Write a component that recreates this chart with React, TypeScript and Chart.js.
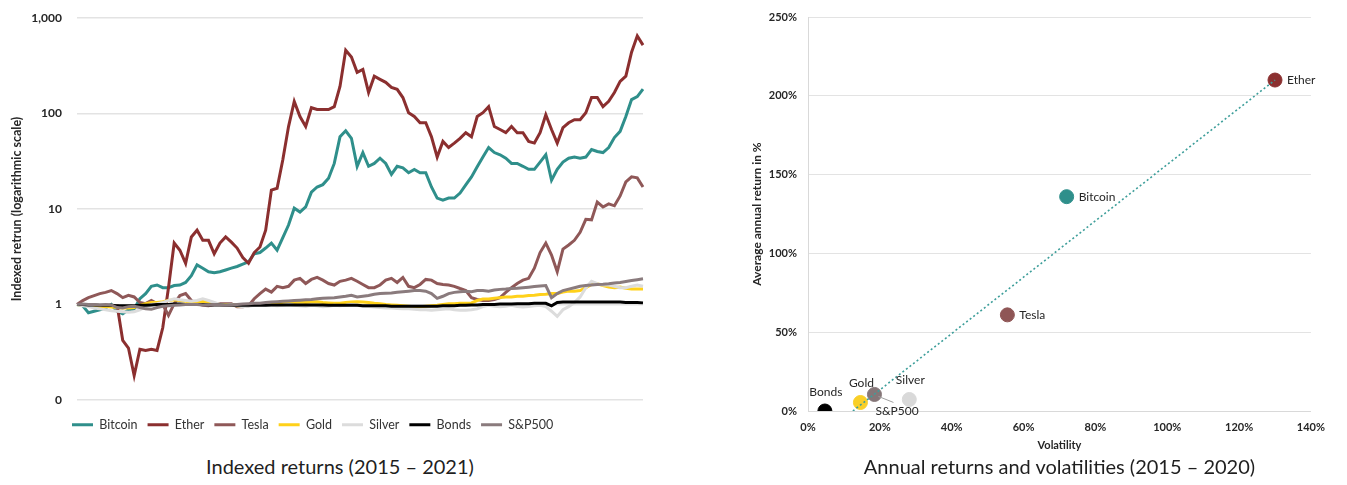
import React, { useEffect, useRef } from 'react';
import { Chart, registerables } from 'chart.js';

Chart.register(...registerables);

const FONT = 'Lato, "Source Sans Pro", "Noto Sans", sans-serif';
Chart.defaults.font.family = FONT;

// ---------- Left chart data (indexed returns, log scale) ----------
const periods = Array.from({ length: 100 }, (_, i) => {
  const d = new Date(Date.UTC(2015, 1, 1) + i * 22.3 * 86400000);
  return d.toISOString().slice(0, 10);
});

const bitcoin = [
  1.0, 0.97, 0.82, 0.85, 0.88, 0.92, 1.0, 0.85, 0.8, 0.88,
  0.9, 1.15, 1.3, 1.55, 1.6, 1.5, 1.5, 1.58, 1.6, 1.7,
  2.0, 2.6, 2.4, 2.2, 2.15, 2.2, 2.3, 2.4, 2.5, 2.65,
  2.8, 3.4, 3.5, 3.9, 4.4, 3.7, 5.0, 6.8, 10.2, 9.3,
  10.5, 15, 17, 18, 21, 30, 57, 66, 55, 28,
  39, 28, 30, 34, 30, 23, 28, 27, 24, 26,
  24, 24, 17, 13, 12.4, 13, 13, 14.7, 17.9, 21.7,
  27.7, 35, 44, 39, 37, 34, 30, 30, 28, 26,
  26, 31, 37, 20, 26, 31, 34, 35, 34, 35,
  42, 40, 39, 44, 56, 65, 93, 140, 150, 180,
];

const ether = [
  null, null, null, null, null, null, null, 1.0, 0.42, 0.35,
  0.18, 0.34, 0.33, 0.34, 0.33, 0.57, 1.5, 4.4, 3.7, 2.7,
  5.1, 6.0, 4.7, 4.7, 3.4, 4.4, 5.1, 4.5, 3.9, 3.1,
  2.7, 3.5, 4.0, 6.0, 15.8, 16.5, 32.8, 73, 134, 93,
  73, 115, 110, 110, 110, 118, 192, 460, 390, 270,
  290, 166, 246, 228, 212, 188, 179, 147, 102, 93,
  80, 80, 57, 35, 51, 44, 49, 55, 63, 57,
  93, 102, 118, 73, 68, 63, 73, 63, 63, 51,
  49, 63, 97, 68, 49, 71, 80, 86, 86, 102,
  147, 147, 118, 134, 166, 217, 246, 438, 650, 520,
];

const tesla = [
  1.0, 1.1, 1.18, 1.24, 1.3, 1.34, 1.4, 1.3, 1.18, 1.25,
  1.2, 1.05, 1.02, 1.1, 1.02, 1.0, 0.77, 1.02, 1.24, 1.3,
  1.1, 1.02, 0.98, 0.97, 1.0, 1.02, 1.02, 1.02, 0.95, 0.95,
  0.97, 1.15, 1.3, 1.45, 1.35, 1.55, 1.5, 1.55, 1.8, 1.88,
  1.66, 1.83, 1.92, 1.8, 1.66, 1.6, 1.75, 1.8, 1.88, 1.75,
  1.62, 1.5, 1.5, 1.6, 1.8, 1.88, 1.7, 1.92, 1.55, 1.5,
  1.62, 1.83, 1.8, 1.66, 1.62, 1.6, 1.55, 1.47, 1.4, 1.18,
  1.13, 1.1, 1.1, 1.13, 1.18, 1.34, 1.5, 1.66, 1.8, 1.88,
  2.4, 3.5, 4.4, 3.3, 2.2, 3.8, 4.2, 4.7, 5.7, 7.8,
  7.7, 11.8, 10.5, 11.3, 10.8, 13.7, 19.2, 21.7, 21.2, 17,
];

const gold = [
  1.0, 0.98, 0.97, 0.96, 0.95, 0.95, 0.94, 0.93, 0.92, 0.92,
  0.93, 0.98, 1.02, 1.05, 1.05, 1.07, 1.1, 1.12, 1.1, 1.08,
  1.05, 1.05, 1.08, 1.06, 1.02, 1.0, 1.0, 1.0, 0.97, 0.96,
  0.98, 1.0, 1.02, 1.02, 1.03, 1.04, 1.03, 1.05, 1.05, 1.06,
  1.05, 1.06, 1.07, 1.05, 1.04, 1.03, 1.03, 1.05, 1.06, 1.07,
  1.06, 1.05, 1.03, 1.02, 1.0, 0.99, 0.98, 0.97, 0.96, 0.95,
  0.95, 0.96, 0.97, 0.98, 1.0, 1.02, 1.02, 1.03, 1.03, 1.04,
  1.1, 1.14, 1.14, 1.16, 1.18, 1.2, 1.2, 1.22, 1.22, 1.24,
  1.25, 1.27, 1.28, 1.3, 1.3, 1.35, 1.38, 1.38, 1.4, 1.5,
  1.62, 1.65, 1.58, 1.52, 1.5, 1.52, 1.48, 1.45, 1.45, 1.45,
];

const silver = [
  1.0, 0.97, 0.95, 0.92, 0.9, 0.88, 0.86, 0.85, 0.84, 0.83,
  0.84, 0.88, 0.95, 1.0, 1.02, 1.05, 1.1, 1.15, 1.12, 1.1,
  1.08, 1.1, 1.15, 1.1, 1.05, 1.0, 0.98, 1.0, 0.97, 0.95,
  0.96, 0.98, 1.0, 1.0, 0.98, 0.97, 0.98, 1.0, 0.98, 0.97,
  0.96, 0.98, 0.97, 0.95, 0.96, 0.98, 0.97, 0.98, 1.0, 0.98,
  0.96, 0.95, 0.94, 0.93, 0.92, 0.92, 0.91, 0.9, 0.9, 0.89,
  0.88, 0.88, 0.87, 0.88, 0.89, 0.9, 0.88, 0.87, 0.87, 0.88,
  0.9, 0.95, 0.98, 0.96, 0.95, 0.96, 0.98, 0.95, 0.94, 0.95,
  0.97, 0.98, 0.95, 0.85, 0.75, 0.88, 0.95, 1.05, 1.2, 1.5,
  1.75, 1.65, 1.6, 1.6, 1.55, 1.5, 1.5, 1.55, 1.6, 1.55,
];

const bonds = [
  1.0, 1.0, 0.99, 0.99, 0.98, 0.98, 0.98, 0.97, 0.97, 0.97,
  0.97, 0.98, 0.98, 0.99, 1.0, 1.0, 1.0, 1.01, 1.01, 1.0,
  1.0, 1.0, 1.0, 0.99, 0.99, 0.99, 0.98, 0.98, 0.98, 0.98,
  0.98, 0.98, 0.98, 0.98, 0.99, 0.99, 0.99, 0.99, 0.99, 0.99,
  0.99, 0.99, 0.99, 0.99, 0.98, 0.98, 0.98, 0.98, 0.98, 0.98,
  0.97, 0.97, 0.97, 0.97, 0.97, 0.96, 0.96, 0.96, 0.96, 0.96,
  0.96, 0.96, 0.96, 0.96, 0.97, 0.97, 0.97, 0.98, 0.98, 0.99,
  0.99, 1.0, 1.0, 1.0, 1.01, 1.01, 1.01, 1.02, 1.02, 1.02,
  1.03, 1.03, 1.03, 0.97, 1.05, 1.06, 1.06, 1.06, 1.06, 1.06,
  1.06, 1.06, 1.06, 1.06, 1.06, 1.06, 1.05, 1.05, 1.05, 1.04,
];

const sp500 = [
  1.0, 1.01, 1.0, 1.0, 0.99, 1.0, 0.99, 0.93, 0.92, 0.95,
  0.96, 0.93, 0.9, 0.89, 0.93, 0.96, 0.97, 0.98, 0.99, 1.0,
  1.0, 1.0, 0.99, 0.99, 1.0, 0.99, 0.98, 0.99, 1.0, 1.01,
  1.02, 1.03, 1.03, 1.05, 1.06, 1.07, 1.08, 1.09, 1.1, 1.11,
  1.12, 1.13, 1.15, 1.16, 1.17, 1.18, 1.2, 1.22, 1.25, 1.2,
  1.22, 1.24, 1.28, 1.3, 1.31, 1.32, 1.34, 1.36, 1.38, 1.4,
  1.4, 1.38, 1.3, 1.16, 1.22, 1.3, 1.34, 1.36, 1.38, 1.36,
  1.4, 1.4, 1.38, 1.42, 1.44, 1.45, 1.47, 1.48, 1.5, 1.52,
  1.54, 1.56, 1.58, 1.18, 1.3, 1.4, 1.45, 1.5, 1.55, 1.58,
  1.6, 1.62, 1.63, 1.65, 1.68, 1.7, 1.74, 1.78, 1.82, 1.86,
];

const seriesNames = ['Bitcoin', 'Ether', 'Tesla', 'Gold', 'Silver', 'Bonds', 'S&P500'];
const seriesData = [bitcoin, ether, tesla, gold, silver, bonds, sp500];
const seriesColors = ['#2f8f8b', '#8b2f2f', '#8f5858', '#ffd11a', '#dcdcdc', '#000000', '#8a7b7d'];
const logTicks = [0.1, 1, 10, 100, 1000];

// ---------- Right chart data (annual return vs volatility) ----------
const assets = ['Bonds', 'Gold', 'S&P500', 'Silver', 'Tesla', 'Bitcoin', 'Ether'];
const volatility = [4.7, 14.6, 18.5, 28.2, 55.5, 72, 130];
const annualReturn = [0, 5.4, 10.5, 7.3, 61, 136, 210];
const assetColors = ['#000000', '#f9cf27', '#857678', '#d9d9d9', '#8f5656', '#2f8f8b', '#8b3030'];
const trendVol = [12.5, 130];
const trendRet = [0, 210];
const labelPlacement: Record<string, string> = {
  Bonds: 'above', Gold: 'above', 'S&P500': 'leader', Silver: 'above',
  Tesla: 'right', Bitcoin: 'right', Ether: 'right',
};

const TEXT = '#262626';

const legendShift = {
  id: 'legendShift',
  afterLayout(chart: any) {
    const l = chart.legend;
    if (!l) return;
    const pad = l.options.labels.padding;
    const dx = 64 - (l.left + pad);
    l.left += dx;
    l.right += dx;
  },
};

const scatterLabels = {
  id: 'scatterLabels',
  afterDatasetsDraw(chart: any) {
    const meta = chart.getDatasetMeta(1);
    const ctx = chart.ctx;
    ctx.save();
    ctx.font = `12px ${FONT}`;
    ctx.fillStyle = TEXT;
    meta.data.forEach((pt: any, i: number) => {
      const name = assets[i];
      const place = labelPlacement[name];
      const x = pt.x;
      const y = pt.y;
      if (place === 'right') {
        ctx.textAlign = 'left';
        ctx.textBaseline = 'middle';
        ctx.fillText(name, x + 12, y);
      } else if (place === 'above') {
        ctx.textAlign = 'center';
        ctx.textBaseline = 'middle';
        ctx.fillText(name, x + 1, y - 19);
      } else if (place === 'leader') {
        ctx.strokeStyle = '#a0a0a0';
        ctx.lineWidth = 1;
        ctx.beginPath();
        ctx.moveTo(x + 4, y + 2);
        ctx.lineTo(x + 19, y + 8);
        ctx.stroke();
        ctx.textAlign = 'left';
        ctx.textBaseline = 'middle';
        ctx.fillText(name, x + 1, y + 17);
      }
    });
    ctx.restore();
  },
};

export default function App() {
  const leftRef = useRef<HTMLCanvasElement>(null);
  const rightRef = useRef<HTMLCanvasElement>(null);

  useEffect(() => {
    const datasets = seriesNames.map((name, i) => ({
      label: name,
      data: seriesData[i],
      borderColor: seriesColors[i],
      backgroundColor: seriesColors[i],
      borderWidth: 3,
      pointRadius: 0,
      tension: 0,
      spanGaps: false,
      order: seriesNames.length - i,
    }));

    const left = new Chart(leftRef.current!, {
      type: 'line',
      data: { labels: periods, datasets: datasets as any },
      options: {
        responsive: false,
        animation: false,
        layout: { padding: { top: 10, right: 15, left: 0, bottom: 0 } },
        plugins: {
          tooltip: { enabled: false },
          legend: {
            position: 'bottom',
            align: 'start',
            labels: {
              boxWidth: 21,
              boxHeight: 3,
              padding: 10,
              color: '#333',
              font: { family: FONT, size: 12.5 },
              sort: (a: any, b: any) => a.datasetIndex - b.datasetIndex,
              generateLabels: (chart: any) =>
                Chart.defaults.plugins.legend.labels
                  .generateLabels(chart)
                  .map((it: any) => ({ ...it, lineWidth: 0, fillStyle: seriesColors[it.datasetIndex] })),
            },
          },
        },
        scales: {
          x: {
            display: true,
            grid: { display: false, drawTicks: false },
            border: { display: false },
            ticks: { display: false },
            afterFit: (s: any) => { s.height = 8.5; },
          },
          y: {
            type: 'logarithmic',
            min: 0.1,
            max: 1000,
            afterBuildTicks: (s: any) => { s.ticks = logTicks.map((v) => ({ value: v })); },
            afterFit: (s: any) => { s.width = 69; s.paddingTop = 6; s.paddingBottom = 6; },
            ticks: {
              callback: (v: any) => (Number(v) < 1 ? '0' : Number(v).toLocaleString('en-US')),
              font: { family: FONT, size: 12, weight: 'bold' },
              color: TEXT,
              padding: 15,
            },
            grid: { color: '#e3e3e3', lineWidth: 1.5, drawTicks: false },
            border: { display: false },
            title: {
              display: true,
              text: 'Indexed retrun (logarithmic scale)',
              font: { family: FONT, size: 12.5, weight: 'bold' },
              color: TEXT,
              padding: { top: 1.5, bottom: 0 },
            },
          },
        },
      },
      plugins: [legendShift],
    });

    const right = new Chart(rightRef.current!, {
      type: 'scatter',
      data: {
        datasets: [
          {
            type: 'line',
            label: 'Trend',
            data: trendVol.map((x, i) => ({ x, y: trendRet[i] })),
            borderColor: '#3d9e9a',
            borderWidth: 1.6,
            borderDash: [2, 2.5],
            pointRadius: 0,
            fill: false,
            order: 0,
          } as any,
          {
            label: 'Assets',
            data: volatility.map((x, i) => ({ x, y: annualReturn[i] })),
            backgroundColor: assetColors,
            borderColor: assetColors,
            pointRadius: 7,
            pointHoverRadius: 7,
            order: 1,
          },
        ],
      },
      options: {
        responsive: false,
        animation: false,
        layout: { padding: { top: 9, right: 19, left: 0, bottom: 0 } },
        plugins: { legend: { display: false }, tooltip: { enabled: false } },
        scales: {
          x: {
            type: 'linear',
            min: 0,
            max: 140,
            ticks: {
              stepSize: 20,
              callback: (v: any) => `${v}%`,
              font: { family: FONT, size: 11, weight: 'bold' },
              color: TEXT,
              padding: 10,
            },
            grid: { display: false, drawTicks: false },
            border: { display: true, color: '#d9d9d9' },
            title: {
              display: true,
              text: 'Volatility',
              font: { family: FONT, size: 11, weight: 'bold' },
              color: TEXT,
              padding: { top: 0, bottom: 3 },
            },
            afterFit: (s: any) => { s.height = 44; },
          },
          y: {
            min: 0,
            max: 250,
            ticks: {
              stepSize: 50,
              callback: (v: any) => `${v}%`,
              font: { family: FONT, size: 11, weight: 'bold' },
              color: TEXT,
              padding: 11,
            },
            grid: { color: '#e3e3e3', drawTicks: false },
            border: { display: true, color: '#d9d9d9' },
            title: {
              display: true,
              text: 'Average annual return in %',
              font: { family: FONT, size: 12, weight: 'bold' },
              color: TEXT,
              padding: { top: 5, bottom: 0 },
            },
            afterFit: (s: any) => { s.width = 63; s.paddingTop = 6; s.paddingBottom = 6; },
          },
        },
      },
      plugins: [scatterLabels],
    });

    return () => {
      left.destroy();
      right.destroy();
    };
  }, []);

  const caption: React.CSSProperties = {
    position: 'absolute',
    top: 446,
    height: 24,
    lineHeight: '24px',
    textAlign: 'center',
    fontFamily: FONT,
    fontSize: 20,
    color: '#1f1f1f',
    whiteSpace: 'nowrap',
  };

  return (
    <div style={{ position: 'relative', width: 1331, height: 477, marginBottom: -8, overflow: 'hidden' }}>
      <canvas
        ref={leftRef}
        width={650}
        height={433}
        style={{ position: 'absolute', left: 0, top: 0, width: 650, height: 433 }}
      />
      <div style={{ ...caption, left: 0, width: 664 }}>Indexed returns (2015 – 2021)</div>
      <canvas
        ref={rightRef}
        width={590}
        height={447}
        style={{ position: 'absolute', left: 737, top: 0, width: 590, height: 447 }}
      />
      <div style={{ ...caption, left: 772, width: 559 }}>Annual returns and volatilities (2015 – 2020)</div>
    </div>
  );
}
